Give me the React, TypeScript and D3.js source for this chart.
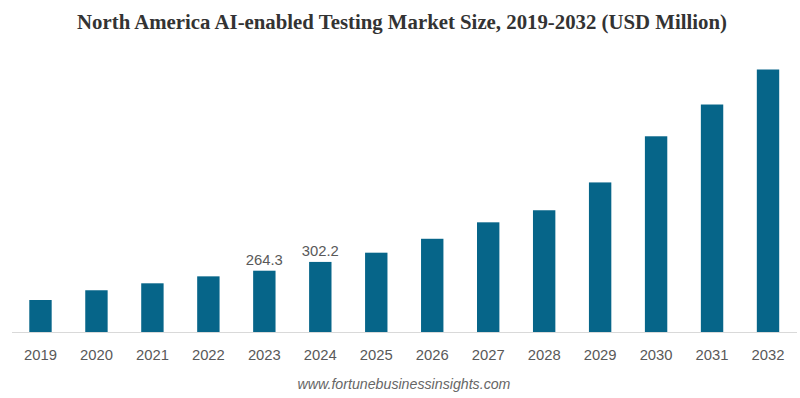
import React, { useEffect, useRef } from 'react';
import { select, scaleLinear, scaleBand } from 'd3';

const years = ['2019', '2020', '2021', '2022', '2023', '2024', '2025', '2026', '2027', '2028', '2029', '2030', '2031', '2032'];
const marketSize = [138, 180, 210, 240, 264.3, 302.2, 342, 402, 473, 525, 645, 844, 981, 1132];
const labelledYears = ['2023', '2024'];

const title = 'North America AI-enabled Testing Market Size, 2019-2032 (USD Million)';
const source = 'www.fortunebusinessinsights.com';

const App = () => {
  const svgRef = useRef<SVGSVGElement>(null);

  useEffect(() => {
    document.body.style.margin = '0';
    const width = 800;
    const height = 398;
    const baseline = 332;

    const svg = select(svgRef.current).attr('width', width).attr('height', height).html(null);

    const x = scaleBand().domain(years).range([12.5, 796]).paddingInner(0.6).paddingOuter(0.3);
    // 0..1132 maps onto ~263px of bar height
    const y = scaleLinear().domain([0, 1132]).range([baseline, 69.5]);

    svg
      .append('text')
      .attr('x', 402)
      .attr('y', 29)
      .attr('text-anchor', 'middle')
      .attr('font-family', '"Liberation Serif", "Times New Roman", serif')
      .attr('font-weight', 'bold')
      .attr('font-size', 20.8)
      .attr('fill', '#333')
      .text(title);

    svg
      .selectAll('.bar')
      .data(marketSize)
      .join('rect')
      .attr('class', 'bar')
      .attr('x', (d, i) => x(years[i]) as number)
      .attr('y', (d) => y(d))
      .attr('width', x.bandwidth())
      .attr('height', (d) => baseline - y(d))
      .attr('fill', '#066589');

    svg
      .append('line')
      .attr('x1', 12)
      .attr('x2', 797)
      .attr('y1', baseline + 0.5)
      .attr('y2', baseline + 0.5)
      .attr('stroke', '#d9d9d9');

    svg
      .selectAll('.year')
      .data(years)
      .join('text')
      .attr('class', 'year')
      .attr('x', (d) => (x(d) as number) + x.bandwidth() / 2)
      .attr('y', 360)
      .attr('text-anchor', 'middle')
      .attr('font-family', '"Liberation Sans", Arial, sans-serif')
      .attr('font-size', 14.8)
      .attr('fill', '#595959')
      .text((d) => d);

    svg
      .selectAll('.value')
      .data(years.filter((d) => labelledYears.includes(d)))
      .join('text')
      .attr('class', 'value')
      .attr('x', (d) => (x(d) as number) + x.bandwidth() / 2)
      .attr('y', (d) => y(marketSize[years.indexOf(d)]) - 6)
      .attr('text-anchor', 'middle')
      .attr('font-family', '"Liberation Sans", Arial, sans-serif')
      .attr('font-size', 14.8)
      .attr('fill', '#595959')
      .text((d) => marketSize[years.indexOf(d)].toFixed(1));

    svg
      .append('text')
      .attr('x', 404)
      .attr('y', 389)
      .attr('text-anchor', 'middle')
      .attr('font-family', '"Liberation Sans", Arial, sans-serif')
      .attr('font-style', 'italic')
      .attr('font-size', 14.2)
      .attr('fill', '#666')
      .text(source);
  }, []);

  return <svg ref={svgRef} style={{ display: 'block' }} />;
};

export default App;
